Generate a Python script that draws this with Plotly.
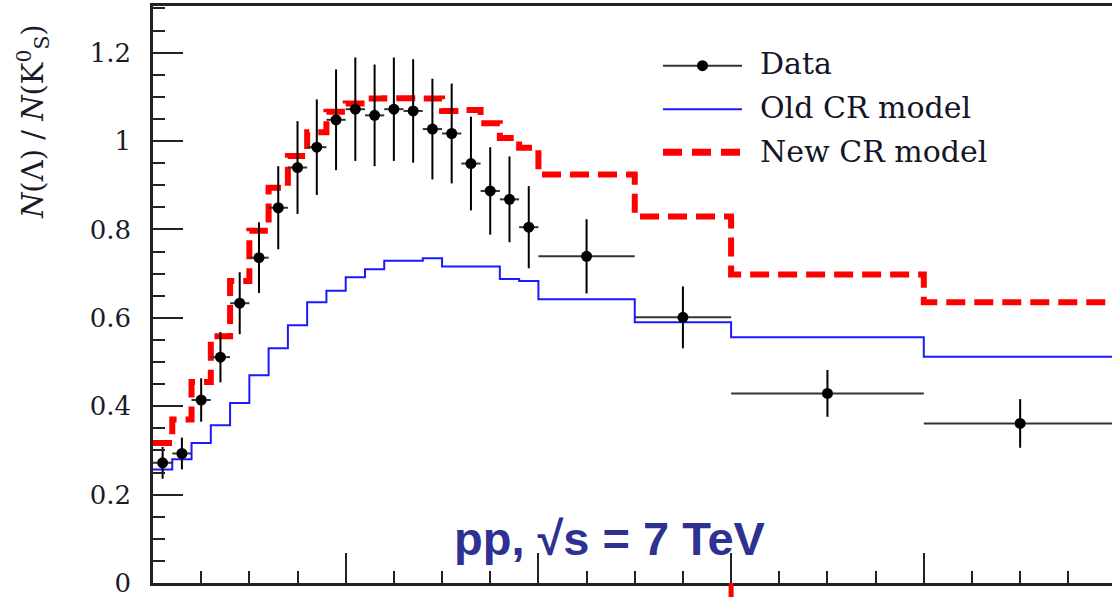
import plotly.graph_objects as go

# pT bin edges (GeV)
bin_edges = [0.0, 0.2, 0.4, 0.6, 0.8, 1.0, 1.2, 1.4, 1.6, 1.8, 2.0, 2.2, 2.4, 2.6,
             2.8, 3.0, 3.2, 3.4, 3.6, 3.8, 4.0, 5.0, 6.0, 8.0, 10.0]

# Data: Lambda / K0S ratio
data_vals = [0.272, 0.293, 0.414, 0.511, 0.633, 0.736, 0.849, 0.940, 0.986, 1.048,
             1.072, 1.058, 1.072, 1.068, 1.027, 1.017, 0.949, 0.887, 0.868, 0.805,
             0.739, 0.601, 0.429, 0.361]
data_errs = [0.036, 0.036, 0.049, 0.057, 0.070, 0.080, 0.094, 0.105, 0.108, 0.114,
             0.117, 0.115, 0.117, 0.117, 0.114, 0.113, 0.106, 0.099, 0.097, 0.093,
             0.084, 0.070, 0.053, 0.055]

# Old CR model
old_cr = [0.257, 0.280, 0.317, 0.357, 0.407, 0.470, 0.531, 0.583, 0.635, 0.661,
          0.692, 0.710, 0.729, 0.729, 0.735, 0.716, 0.716, 0.716, 0.688, 0.683,
          0.642, 0.590, 0.556, 0.512]

# New CR model
new_cr = [0.317, 0.370, 0.455, 0.558, 0.683, 0.797, 0.894, 0.966, 1.020, 1.066,
          1.085, 1.096, 1.097, 1.097, 1.096, 1.068, 1.070, 1.040, 1.007, 0.985,
          0.924, 0.829, 0.698, 0.635]

y_tickvals = [0, 0.2, 0.4, 0.6, 0.8, 1.0, 1.2]
y_ticktext = ["0", "0.2", "0.4", "0.6", "0.8", "1", "1.2"]

legend_labels = ["Data", "Old CR model", "New CR model"]
energy_label = "pp, \u221As = 7 TeV"

centers = [(a + b) / 2 for a, b in zip(bin_edges[:-1], bin_edges[1:])]
halfw = [(b - a) / 2 for a, b in zip(bin_edges[:-1], bin_edges[1:])]

fig = go.Figure()

fig.add_trace(go.Scatter(
    x=bin_edges, y=old_cr + [old_cr[-1]], mode="lines", line_shape="hv",
    line=dict(color="#1a1aff", width=2), name=legend_labels[1], showlegend=False))

fig.add_trace(go.Scatter(
    x=bin_edges, y=new_cr + [new_cr[-1]], mode="lines", line_shape="hv",
    line=dict(color="#ff0000", width=6, dash="19px,9px"), name=legend_labels[2],
    showlegend=False))

fig.add_trace(go.Scatter(
    x=centers, y=data_vals, mode="markers", name=legend_labels[0], showlegend=False,
    marker=dict(color="black", size=11),
    error_y=dict(type="data", array=data_errs, color="black", thickness=2, width=0),
    error_x=dict(type="data", array=halfw, color="#333333", thickness=2, width=0)))

L, T, W, H = 153, 6, 1112, 597
B = 14
pw, ph = W - L, H - T - B


def px(xp):
    return (xp - L) / pw


def py(yp):
    return (H - B - yp) / ph


shapes = []
annotations = []

# manual legend
leg_y = [65.7, 109.3, 152.3]
x0, x1 = 663, 742
shapes.append(dict(type="line", xref="paper", yref="paper", x0=px(x0), x1=px(x1),
                   y0=py(leg_y[0]), y1=py(leg_y[0]), line=dict(color="#333333", width=2)))
shapes.append(dict(type="circle", xref="paper", yref="paper",
                   x0=px(702.5 - 5.5), x1=px(702.5 + 5.5),
                   y0=py(leg_y[0] + 5.5), y1=py(leg_y[0] - 5.5),
                   fillcolor="black", line=dict(color="black", width=0)))
shapes.append(dict(type="line", xref="paper", yref="paper", x0=px(x0), x1=px(x1),
                   y0=py(leg_y[1]), y1=py(leg_y[1]), line=dict(color="#1a1aff", width=2)))
shapes.append(dict(type="line", xref="paper", yref="paper", x0=px(x0), x1=px(x1 + 2),
                   y0=py(leg_y[2]), y1=py(leg_y[2]),
                   line=dict(color="#ff0000", width=7, dash="19px,10px")))

for lab, yy in zip(legend_labels, [63.5, 107.5, 151.5]):
    annotations.append(dict(text=lab, xref="paper", yref="paper", x=px(758), y=py(yy),
                            xanchor="left", yanchor="middle", showarrow=False,
                            font=dict(family="DejaVu Serif", size=30, color="#141428")))

# red mark below axis at x = 6
shapes.append(dict(type="line", xref="x", yref="paper", x0=6, x1=6, y0=-0.04, y1=0,
                   line=dict(color="#ff0000", width=5)))

# y-axis title
annotations.append(dict(
    text="<i>N</i>(\u039B) / <i>N</i>(K<sup>0</sup><sub>S</sub>)",
    xref="paper", yref="paper", x=px(33), y=py(121), xanchor="center", yanchor="middle",
    textangle=-90, showarrow=False,
    font=dict(family="DejaVu Serif", size=29, color="#1a1a2a")))

# energy label
annotations.append(dict(
    text="<b>" + energy_label + "</b>", xref="paper", yref="paper",
    x=px(610), y=py(538), xanchor="center", yanchor="middle", showarrow=False,
    font=dict(family="Liberation Sans", size=47, color="#2e3192")))

fig.update_layout(
    width=W, height=H,
    margin=dict(l=L, r=0, t=T, b=B, pad=0),
    paper_bgcolor="white", plot_bgcolor="white",
    showlegend=False,
    shapes=shapes, annotations=annotations,
    xaxis=dict(range=[0, pw / 96.35], showgrid=False, zeroline=False,
               showline=True, linecolor="#222222", linewidth=2.5, mirror=True,
               ticks="inside", ticklen=30, tickwidth=2, tickcolor="#222222",
               tick0=0, dtick=2, showticklabels=False,
               minor=dict(ticks="inside", ticklen=12, tickwidth=2,
                          tickcolor="#222222", dtick=0.5, showgrid=False)),
    yaxis=dict(range=[0, ph / 442.0], showgrid=False, zeroline=False,
               showline=True, linecolor="#222222", linewidth=2.5,
               ticks="inside", ticklen=30, tickwidth=2, tickcolor="#222222",
               tickvals=y_tickvals, ticktext=y_ticktext, ticklabelstandoff=14,
               ticklabeloverflow="allow",
               tickfont=dict(family="DejaVu Serif", size=26, color="#1a1a2a"),
               minor=dict(ticks="inside", ticklen=12, tickwidth=2,
                          tickcolor="#222222", dtick=0.05, showgrid=False)),
)

fig.write_html("out.html")
